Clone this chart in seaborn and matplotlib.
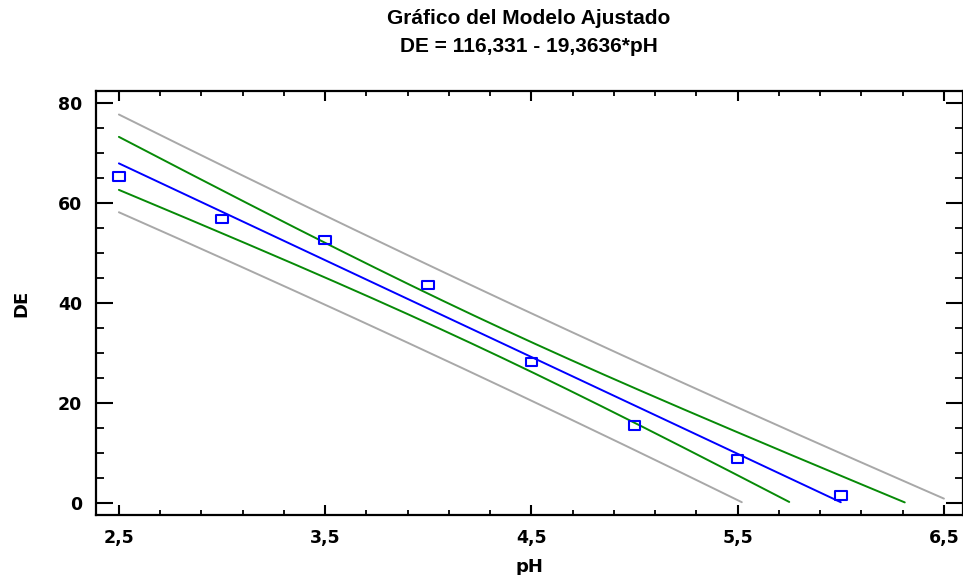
import numpy as np
import pandas as pd
import matplotlib
matplotlib.use("Agg")
import matplotlib.pyplot as plt
from matplotlib.path import Path
import seaborn as sns

# ---- data ----
ph = [2.5, 3.0, 3.5, 4.0, 4.5, 5.0, 5.5, 6.0]
de = [65.3, 56.8, 52.6, 43.6, 28.2, 15.5, 8.8, 1.5]
xticks = [2.5, 3.5, 4.5, 5.5, 6.5]
xticklabels = ["2,5", "3,5", "4,5", "5,5", "6,5"]
yticks = [0, 20, 40, 60, 80]
title1 = "Gráfico del Modelo Ajustado"
title2 = "DE = 116,331 - 19,3636*pH"
t_crit = 2.447  # t(0.975, 6 df)

# ---- least-squares fit with 95% confidence / prediction limits ----
x = np.asarray(ph)
y = np.asarray(de)
n = len(x)
xm = x.mean()
sxx = ((x - xm) ** 2).sum()
b1 = ((x - xm) * (y - y.mean())).sum() / sxx
b0 = y.mean() - b1 * xm
s = np.sqrt(((y - (b0 + b1 * x)) ** 2).sum() / (n - 2))

grid = np.linspace(2.5, 6.5, 401)
fit = b0 + b1 * grid
se_m = s * np.sqrt(1.0 / n + (grid - xm) ** 2 / sxx)
se_p = s * np.sqrt(1.0 + 1.0 / n + (grid - xm) ** 2 / sxx)

curves = {
    "fit": (fit, "#0000FF"),
    "cl_up": (fit + t_crit * se_m, "#078A07"),
    "cl_lo": (fit - t_crit * se_m, "#078A07"),
    "pl_up": (fit + t_crit * se_p, "#A8A8A8"),
    "pl_lo": (fit - t_crit * se_p, "#A8A8A8"),
}

sns.set_style("ticks")
plt.rcParams["font.family"] = ["DejaVu Sans"]
plt.rcParams.update({"text.color": "black", "axes.labelcolor": "black",
                     "xtick.color": "black", "ytick.color": "black"})

fig = plt.figure(figsize=(9.63, 5.75), dpi=100)
ax = fig.add_axes([96 / 963, 60 / 575, (962.5 - 96) / 963, (515 - 91) / 575])

for name, (vals, col) in curves.items():
    mask = vals >= 0
    dfc = pd.DataFrame({"pH": grid[mask], "DE": vals[mask]})
    sns.lineplot(data=dfc, x="pH", y="DE", ax=ax, color=col, lw=1.4,
                 sort=False, estimator=None)

rect = Path([(-1, -0.75), (1, -0.75), (1, 0.75), (-1, 0.75), (-1, -0.75)],
            [Path.MOVETO, Path.LINETO, Path.LINETO, Path.LINETO, Path.CLOSEPOLY])
dfp = pd.DataFrame({"pH": ph, "DE": de})
sns.scatterplot(data=dfp, x="pH", y="DE", ax=ax, marker=rect, s=70,
                facecolor="none", edgecolor="#0000FF", linewidth=1.5, zorder=5)

ax.set_xlim(2.389, 6.59)
ax.set_ylim(-2.4, 82.4)
ax.set_xticks(xticks)
ax.set_xticklabels(xticklabels)
ax.set_yticks(yticks)
ax.set_xticks(np.arange(2.5, 6.59, 0.2), minor=True)
ax.set_yticks(np.arange(0, 82, 5), minor=True)

for sp in ax.spines.values():
    sp.set_visible(True)
    sp.set_linewidth(1.6)
    sp.set_color("black")

ax.tick_params(axis="y", which="major", direction="in", length=12, width=1.5,
               left=True, right=True, labelsize=12.5, pad=10)
ax.tick_params(axis="y", which="minor", direction="in", length=6, width=1.3,
               left=True, right=True)
ax.tick_params(axis="x", which="major", direction="in", length=7, width=1.5,
               bottom=True, top=True, labelsize=12.5, pad=10)
ax.tick_params(axis="x", which="minor", direction="in", length=3.5, width=1.3,
               bottom=True, top=True)
for lab in ax.get_xticklabels() + ax.get_yticklabels():
    lab.set_fontweight("bold")

ax.set_xlabel("pH", fontsize=13, fontweight="bold", labelpad=8)
ax.set_ylabel("DE", fontsize=13, fontweight="bold", labelpad=20)

fig.text(529 / 963, 1 - 18 / 575, title1, ha="center", va="center",
         fontsize=15, fontweight="bold", family="Liberation Sans")
fig.text(529 / 963, 1 - 46 / 575, title2, ha="center", va="center",
         fontsize=15, fontweight="bold", family="Liberation Sans")

fig.savefig("out.png", dpi=100)
